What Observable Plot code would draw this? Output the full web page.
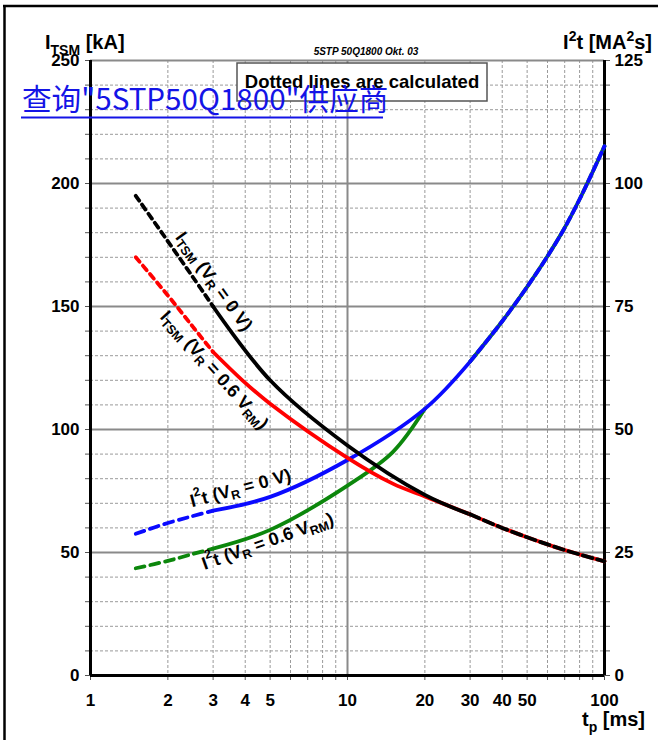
<!DOCTYPE html>
<html><head><meta charset="utf-8">
<script src="https://cdn.jsdelivr.net/npm/d3@7"></script>
<script src="https://cdn.jsdelivr.net/npm/@observablehq/plot@0.6"></script>
<style>
body{margin:0;background:#fff;}
#chart{position:relative;width:658px;height:740px;overflow:hidden;}
#chart svg{position:absolute;left:0;top:0;}
</style></head><body><div id="chart"></div>
<script>
// ---- axis / grid values ----
const xTickLabels = [1,2,3,4,5,10,20,30,40,50,100];
const xGridMinor = [2,3,4,5,6,7,8,9,20,30,40,50,60,70,80,90];
const xGridMajor = [10];
const xFrame = [1,100];
const yGridMinor = [10,20,30,40,60,70,80,90,110,120,130,140,160,170,180,190,210,220,230,240];
const yGridMajor = [50,100,150,200,250];
const itsmTickLabels = [0,50,100,150,200,250];   // kA (left)
const i2tTickLabels = [0,25,50,75,100,125];      // MA²s (right)

// ---- series: t_p [ms] ----
const tpCalcLow = [1.5, 2, 2.5, 3];
const tpCalcHigh = [30, 40, 50, 60, 70, 80, 90, 100];

// I_TSM [kA]
const itsm0Low = [195, 176.5, 162, 150];
const tpItsm0 = [3, 5, 10, 20, 30];
const itsm0Meas = [150, 120, 93.5, 73.4, 65.5];
const itsm06Low = [170, 154.5, 141.8, 131.5];
const tpItsm06 = [3, 3.9, 5, 10, 15, 20, 30];
const itsm06Meas = [131.5, 120, 110.5, 88.5, 78, 72.8, 65.5];
const itsmHigh = [65.5, 60, 56.2, 53.3, 51, 49.2, 47.7, 46.4];

// I²t [MA²s]
const i2t0Low = [28.8, 31, 32.4, 33.5];
const tpI2t0 = [3, 5, 10, 20, 30];
const i2t0Meas = [33.5, 36.3, 43.8, 54.2, 63.8];
const i2t06Low = [21.8, 23.3, 24.7, 25.8];
const tpI2t06 = [3, 5, 10, 15, 20];
const i2t06Meas = [25.8, 29.6, 38.6, 45.4, 54.2];
const i2tHigh = [63.8, 72, 79, 85.2, 91, 96.8, 102.4, 107.6];

const I2T_TO_Y = 250 / 125; // right axis maps 0..125 onto left 0..250

const mk = (tps, vals, k = 1) => tps.map((t, i) => ({t, v: vals[i] * k}));
const yTicksAll = d3.sort([0, ...yGridMinor, ...yGridMajor]);
const xTicksAll = d3.sort([1, 10, 100, ...xGridMinor]);

const BLUE = "#0a0aff", GREEN = "#0c870c", RED = "#ff0000", BLACK = "#000";
const LW = 3.8;
const CURVE = "catmull-rom";

const plot = Plot.plot({
  width: 658, height: 740,
  marginLeft: 90, marginRight: 54, marginTop: 60, marginBottom: 65,
  style: {fontFamily: "'Liberation Sans', Arial, sans-serif", fontSize: "17px", fontWeight: "bold", background: "transparent"},
  x: {type: "log", domain: [1, 100]},
  y: {domain: [0, 250]},
  marks: [
    Plot.ruleX(xGridMinor, {stroke: "#9a9a9a", strokeWidth: 1, strokeDasharray: "3,2"}),
    Plot.ruleY(yGridMinor, {stroke: "#9a9a9a", strokeWidth: 1, strokeDasharray: "3,2"}),
    Plot.ruleX(xGridMajor, {stroke: "#8a8a8a", strokeWidth: 2}),
    Plot.ruleY(yGridMajor, {stroke: "#8a8a8a", strokeWidth: 2}),
    Plot.axisY(yTicksAll, {anchor: "left", tickSize: 5, tickPadding: 6, stroke: "#555",
      tickFormat: d => itsmTickLabels.includes(d) ? d : "", label: null, fill: "#000"}),
    Plot.axisY(yTicksAll, {anchor: "right", tickSize: 5, tickPadding: 5, stroke: "#555",
      tickFormat: d => (d % 50 === 0 && i2tTickLabels.includes(d / I2T_TO_Y)) ? d / I2T_TO_Y : "", label: null, fill: "#000"}),
    Plot.axisX(xTicksAll, {anchor: "bottom", tickSize: 5, stroke: "#555", tickFormat: () => "", label: null}),
    Plot.text(xTickLabels, {x: d => d, y: 0, dy: 25, text: d => `${d}`, fill: "#000"}),
    Plot.ruleX(xFrame, {stroke: "#000", strokeWidth: 3}),
    Plot.ruleY([0], {stroke: "#000", strokeWidth: 3}),
    // I²t curves (right axis)
    Plot.line(mk(tpCalcLow, i2t06Low, I2T_TO_Y), {x: "t", y: "v", stroke: GREEN, strokeWidth: LW, strokeDasharray: "9,6", curve: CURVE}),
    Plot.line(mk(tpI2t06, i2t06Meas, I2T_TO_Y), {x: "t", y: "v", stroke: GREEN, strokeWidth: LW, curve: CURVE}),
    Plot.line(mk(tpCalcLow, i2t0Low, I2T_TO_Y), {x: "t", y: "v", stroke: BLUE, strokeWidth: LW, strokeDasharray: "9,6", curve: CURVE}),
    Plot.line(mk(tpI2t0, i2t0Meas, I2T_TO_Y), {x: "t", y: "v", stroke: BLUE, strokeWidth: LW, curve: CURVE}),
    Plot.line(mk(tpCalcHigh, i2tHigh, I2T_TO_Y), {x: "t", y: "v", stroke: GREEN, strokeWidth: LW, curve: CURVE}),
    Plot.line(mk(tpCalcHigh, i2tHigh, I2T_TO_Y), {x: "t", y: "v", stroke: BLUE, strokeWidth: LW, strokeDasharray: "8,4", curve: CURVE}),
    // I_TSM curves (left axis)
    Plot.line(mk(tpCalcLow, itsm06Low), {x: "t", y: "v", stroke: RED, strokeWidth: LW, strokeDasharray: "6,5", curve: CURVE}),
    Plot.line(mk(tpItsm06, itsm06Meas), {x: "t", y: "v", stroke: RED, strokeWidth: LW, curve: CURVE}),
    Plot.line(mk(tpCalcLow, itsm0Low), {x: "t", y: "v", stroke: BLACK, strokeWidth: LW, strokeDasharray: "6,5", curve: CURVE}),
    Plot.line(mk(tpItsm0, itsm0Meas), {x: "t", y: "v", stroke: BLACK, strokeWidth: LW, curve: CURVE}),
    Plot.line(mk(tpCalcHigh, itsmHigh), {x: "t", y: "v", stroke: RED, strokeWidth: LW, curve: CURVE}),
    Plot.line(mk(tpCalcHigh, itsmHigh), {x: "t", y: "v", stroke: BLACK, strokeWidth: LW, strokeDasharray: "10,5", curve: CURVE})
  ]
});
document.getElementById("chart").appendChild(plot);

// ---- annotations ----
const sx = plot.scale("x"), sy = plot.scale("y");
const svg = d3.select(plot);
const g = svg.append("g").attr("font-family", "'Liberation Sans', Arial, sans-serif")
  .attr("font-weight", "bold").attr("fill", "#000").attr("text-anchor", "start");

function rich(sel, parts, size) {
  // parts: [text, kind] kind: undefined | "sub" | "sup"
  let shift = 0;
  for (const [txt, kind] of parts) {
    const want = kind === "sub" ? size * 0.3 : kind === "sup" ? -size * 0.42 : 0;
    sel.append("tspan").attr("dy", want - shift)
      .attr("font-size", kind ? size * 0.7 : size).text(txt);
    shift = want;
  }
}

function curveLabel(t, v, angle, parts, size) {
  const t0 = g.append("text")
    .attr("transform", `translate(${sx.apply(t)},${sy.apply(v)}) rotate(${angle})`)
    .attr("text-anchor", "middle").attr("dominant-baseline", "central");
  rich(t0, parts, size);
}

curveLabel(3.04, 160, 54, [["I"], ["TSM", "sub"], [" (V"], ["R", "sub"], [" = 0 V)"]], 18);
curveLabel(3.05, 124, 48, [["I"], ["TSM", "sub"], [" (V"], ["R", "sub"], [" = 0.6 V"], ["RM", "sub"], [")"]], 18);
curveLabel(3.85, 38 * I2T_TO_Y, -15, [["I"], ["2", "sup"], ["t (V"], ["R", "sub"], [" = 0 V)"]], 18);
curveLabel(4.91, 27.2 * I2T_TO_Y, -19.5, [["I"], ["2", "sup"], ["t (V"], ["R", "sub"], [" = 0.6 V"], ["RM", "sub"], [")"]], 18);

// header texts
const h1 = g.append("text").attr("x", 45).attr("y", 49);
rich(h1, [["I"], ["TSM", "sub"], [" [kA]"]], 20);
const h2 = g.append("text").attr("x", 652).attr("y", 49).attr("text-anchor", "end");
rich(h2, [["I"], ["2", "sup"], ["t [MA"], ["2", "sup"], ["s]"]], 20);
g.append("text").attr("x", 366).attr("y", 55).attr("text-anchor", "middle")
  .attr("font-size", 10).attr("font-style", "italic").text("5STP 50Q1800 Okt. 03");
const h3 = g.append("text").attr("x", 645).attr("y", 726).attr("text-anchor", "end");
rich(h3, [["t"], ["p", "sub"], [" [ms]"]], 20);

// note box
g.append("rect").attr("x", 237).attr("y", 63).attr("width", 250).attr("height", 38)
  .attr("fill", "#fff").attr("stroke", "#555").attr("stroke-width", 1.5);
g.append("text").attr("x", 362).attr("y", 88).attr("text-anchor", "middle")
  .attr("font-size", 18.5).text("Dotted lines are calculated");

// watermark link
g.append("text").attr("x", 22).attr("y", 110).attr("text-anchor", "start")
  .attr("font-family", "'Noto Sans CJK SC', sans-serif").attr("font-weight", "normal")
  .attr("font-size", 29.6).attr("fill", "#1414e6").text('查询"5STP50Q1800"供应商');
g.append("line").attr("x1", 21).attr("x2", 383).attr("y1", 117.5).attr("y2", 117.5)
  .attr("stroke", "#1414e6").attr("stroke-width", 2);

// outer frame (left & top)
g.append("line").attr("x1", 4.5).attr("x2", 4.5).attr("y1", 5).attr("y2", 740).attr("stroke", "#000").attr("stroke-width", 2.5);
g.append("line").attr("x1", 3).attr("x2", 658).attr("y1", 6).attr("y2", 6).attr("stroke", "#000").attr("stroke-width", 2.5);
</script>
</body></html>
